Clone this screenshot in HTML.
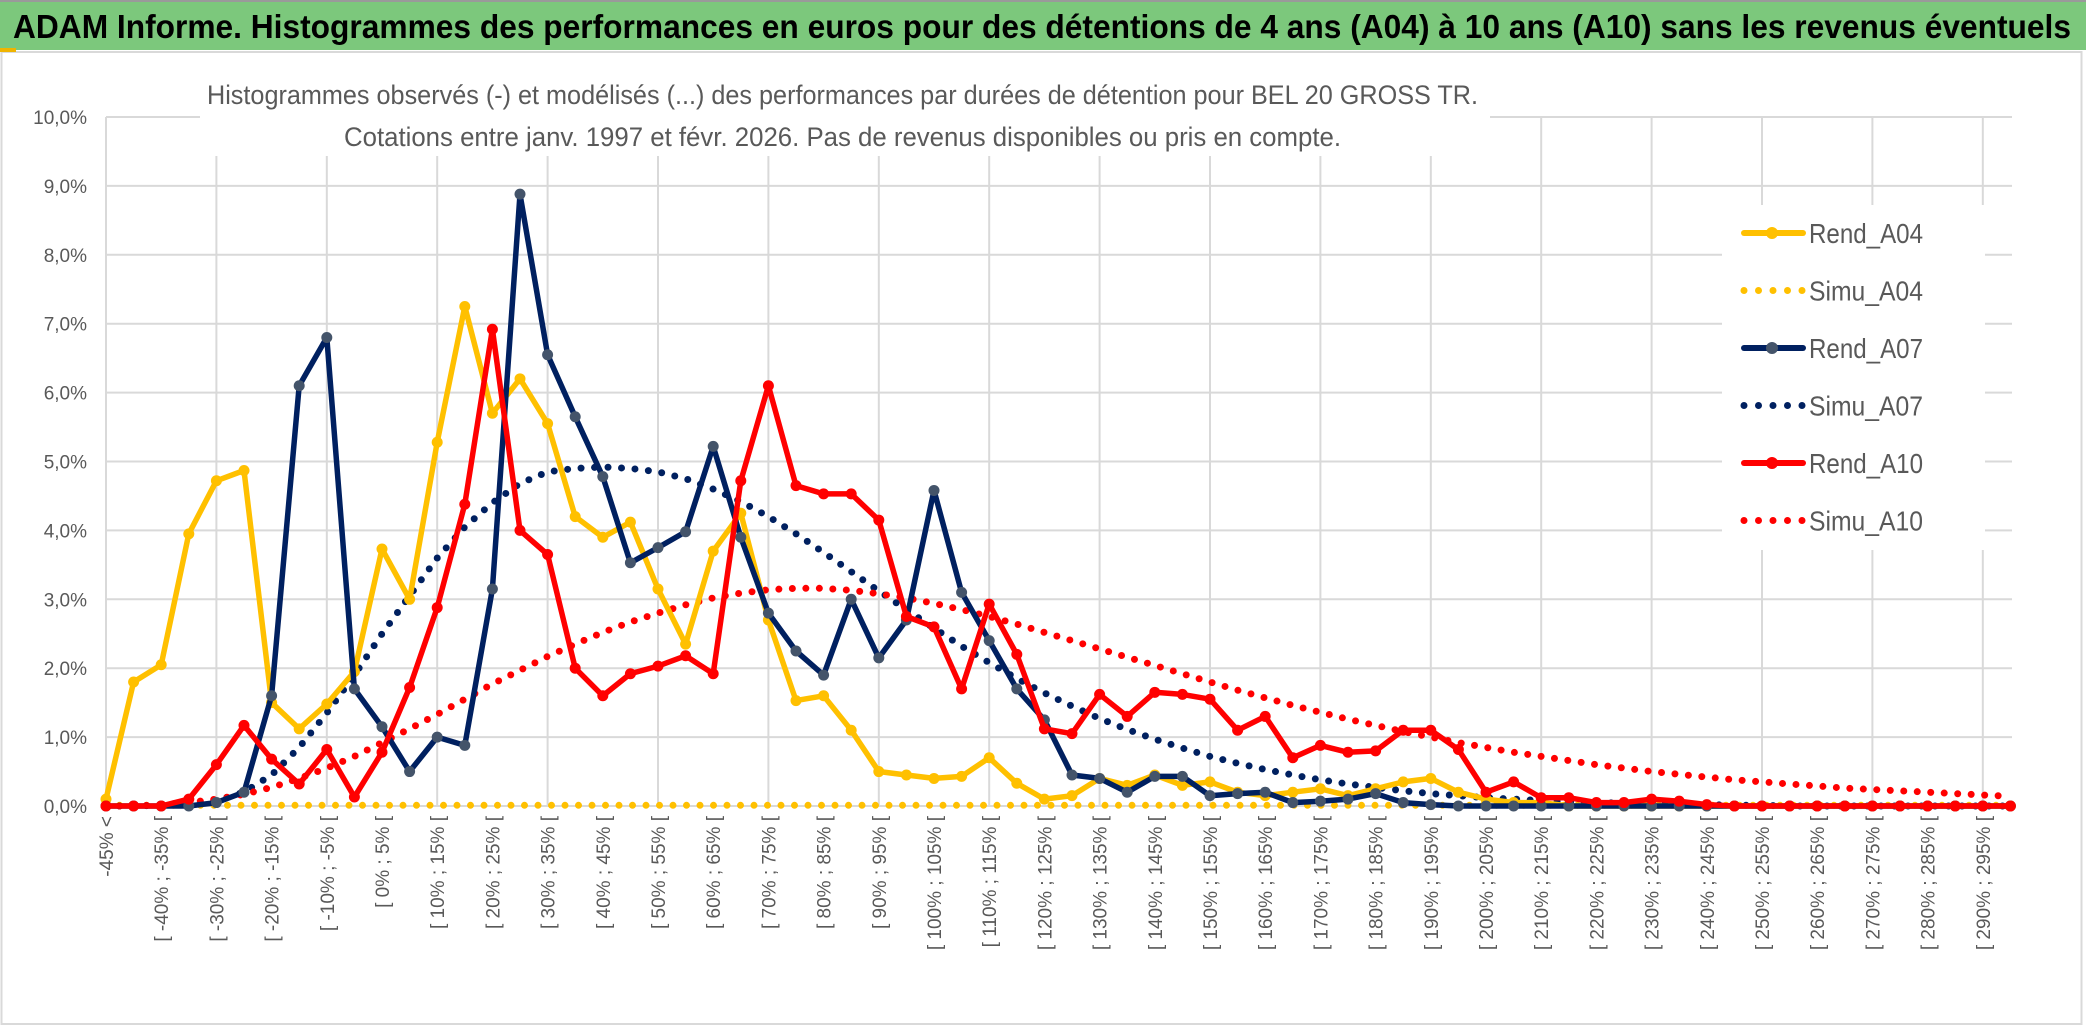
<!DOCTYPE html>
<html><head><meta charset="utf-8"><style>
html,body{margin:0;padding:0;background:#fff;}
svg{display:block;font-family:"Liberation Sans",sans-serif;}
</style></head><body>
<svg id="chart" width="2086" height="1031" viewBox="0 0 2086 1031">
<rect x="0" y="0" width="2086" height="1031" fill="#fff"/>
<rect x="1.5" y="52" width="2080" height="972" fill="none" stroke="#d9d9d9" stroke-width="2"/>
<rect x="0" y="0" width="2086" height="50" fill="#7cc87c"/>
<line x1="0" y1="1" x2="2086" y2="1" stroke="#9a9a9a" stroke-width="2"/>
<rect x="0" y="48" width="16" height="4" fill="#f0b400"/>
<text x="13" y="38" font-size="33" font-weight="bold" fill="#000" textLength="2058" lengthAdjust="spacingAndGlyphs">ADAM Informe. Histogrammes des performances en euros pour des détentions de 4 ans (A04) à 10 ans (A10) sans les revenus éventuels</text>
<g id="grid"></g>
<g id="series"></g>
<g id="ylabels"></g>
<g id="xlabels"></g>
<rect x="200" y="78" width="1290" height="78" fill="#fff"/>
<text x="207" y="104" font-size="27" fill="#595959" textLength="1271" lengthAdjust="spacingAndGlyphs">Histogrammes observés (-) et modélisés (...) des performances par durées de détention pour BEL 20 GROSS TR.</text>
<text x="344" y="146" font-size="27" fill="#595959" textLength="997" lengthAdjust="spacingAndGlyphs">Cotations entre janv. 1997 et févr. 2026. Pas de revenus disponibles ou pris en compte.</text>
<g id="legend"></g>
</svg>
<script>
const categories = ["-45% <"];
for (let a = -45; a < 300; a += 5) categories.push("[ " + a + "% ; " + (a + 5) + "% [");
const yTicks = [0,1,2,3,4,5,6,7,8,9,10];
const yTickLabels = ["0,0%","1,0%","2,0%","3,0%","4,0%","5,0%","6,0%","7,0%","8,0%","9,0%","10,0%"];
const rendA04 = [0.1,1.8,2.05,3.95,4.72,4.87,1.5,1.12,1.48,1.95,3.73,3.0,5.28,7.25,5.7,6.2,5.55,4.2,3.9,4.12,3.15,2.35,3.7,4.25,2.7,1.53,1.6,1.1,0.5,0.45,0.4,0.43,0.7,0.33,0.1,0.15,0.4,0.3,0.45,0.3,0.35,0.2,0.15,0.2,0.25,0.15,0.25,0.35,0.4,0.2,0.1,0.05,0.05,0,0,0,0,0,0,0,0,0,0,0,0,0,0,0,0,0];
const simuA04 = [0.01,0.01,0.01,0.01,0.01,0.01,0.01,0.01,0.01,0.01,0.01,0.01,0.01,0.01,0.01,0.01,0.01,0.01,0.01,0.01,0.01,0.01,0.01,0.01,0.01,0.01,0.01,0.01,0.01,0.01,0.01,0.01,0.01,0.01,0.01,0.01,0.01,0.01,0.01,0.01,0.01,0.01,0.01,0.01,0.01,0.01,0.01,0.01,0.01,0.01,0.01,0.01,0.01,0.01,0.01,0.01,0.01,0.01,0.01,0.01,0.01,0.01,0.01,0.01,0.01,0.01,0.01,0.01,0.01,0.01];
const rendA07 = [0,0,0,0,0.05,0.2,1.6,6.1,6.8,1.7,1.15,0.5,1.0,0.88,3.15,8.88,6.55,5.65,4.78,3.53,3.75,3.98,5.22,3.9,2.8,2.25,1.9,3.0,2.15,2.7,4.58,3.1,2.4,1.7,1.25,0.45,0.4,0.2,0.43,0.43,0.15,0.18,0.2,0.05,0.07,0.1,0.18,0.05,0.02,0,0,0,0,0,0,0,0,0,0,0,0,0,0,0,0,0,0,0,0,0];
const simuA07 = [0,0,0.01,0.03,0.08,0.2,0.45,0.85,1.35,1.9,2.5,3.05,3.6,4.05,4.4,4.68,4.85,4.9,4.92,4.9,4.85,4.75,4.6,4.42,4.2,3.95,3.68,3.4,3.12,2.85,2.58,2.32,2.08,1.85,1.64,1.45,1.27,1.11,0.97,0.84,0.72,0.62,0.53,0.45,0.38,0.32,0.27,0.22,0.18,0.15,0.12,0.1,0.08,0.06,0.05,0.04,0.03,0.02,0.02,0.01,0.01,0,0,0,0,0,0,0,0,0];
const rendA10 = [0,0,0,0.1,0.6,1.17,0.68,0.32,0.82,0.13,0.78,1.72,2.88,4.38,6.92,4.0,3.65,2.0,1.6,1.92,2.03,2.18,1.92,4.72,6.1,4.65,4.53,4.53,4.15,2.75,2.6,1.7,2.93,2.2,1.12,1.05,1.62,1.3,1.65,1.62,1.55,1.1,1.3,0.7,0.88,0.78,0.8,1.1,1.1,0.82,0.2,0.35,0.12,0.12,0.05,0.05,0.1,0.07,0.02,0,0,0,0,0,0,0,0,0,0,0];
const simuA10 = [0,0,0.02,0.05,0.1,0.17,0.27,0.4,0.55,0.72,0.92,1.12,1.33,1.55,1.77,1.97,2.17,2.35,2.52,2.67,2.8,2.92,3.02,3.09,3.14,3.16,3.16,3.13,3.08,3.02,2.94,2.85,2.75,2.64,2.52,2.4,2.28,2.16,2.04,1.92,1.8,1.68,1.57,1.46,1.36,1.26,1.17,1.08,1.0,0.92,0.85,0.78,0.72,0.66,0.6,0.55,0.5,0.46,0.42,0.38,0.35,0.32,0.29,0.26,0.24,0.22,0.2,0.18,0.16,0.14];

const NS = "http://www.w3.org/2000/svg";
const X0 = 106, DX = 27.6, Y0 = 806, DY = 68.9, XR = 2012;
function xPos(i){ return X0 + i * DX; }
function yPos(v){ return Y0 - v * DY; }
function mk(tag, attrs, parent){ const e = document.createElementNS(NS, tag); for (const k in attrs) e.setAttribute(k, attrs[k]); parent.appendChild(e); return e; }

const grid = document.getElementById("grid");
yTicks.forEach((t, k) => {
  const l = mk("line", {x1: X0, x2: XR, y1: yPos(t), y2: yPos(t), stroke: "#d9d9d9", "stroke-width": 2}, grid);
  
  
});
for (let i = 0; i < categories.length; i += 4) {
  const l = mk("line", {x1: xPos(i), x2: xPos(i), y1: yPos(10), y2: Y0, stroke: "#d9d9d9", "stroke-width": 2}, grid);
  
  
}
const yl = document.getElementById("ylabels");
yTicks.forEach((t, k) => {
  const tx = mk("text", {x: 87, y: yPos(t) + 7, "text-anchor": "end", "font-size": 19, fill: "#595959"}, yl);
  tx.textContent = yTickLabels[k];
  
  
});
const xl = document.getElementById("xlabels");
categories.forEach((c, i) => {
  if (i % 2 === 1) return;
  const x = xPos(i) + 7, y = 816;
  const tx = mk("text", {x: x, y: y, "text-anchor": "end", "font-size": 19, fill: "#595959", transform: "rotate(-90 " + x + " " + y + ")"}, xl);
  tx.textContent = c;
  
  
});

const sg = document.getElementById("series");
function pts(arr){ return arr.map((v, i) => xPos(i).toFixed(1) + "," + yPos(v).toFixed(1)).join(" "); }
function dotted(arr, color, name){
  const p = mk("polyline", {points: pts(arr), fill: "none", stroke: color, "stroke-width": 7, "stroke-linecap": "round", "stroke-dasharray": "0 13.5"}, sg);
  
  
}
function solid(arr, color, mcolor, name){
  const p = mk("polyline", {points: pts(arr), fill: "none", stroke: color, "stroke-width": 5.5, "stroke-linejoin": "round"}, sg);
  
  
  arr.forEach((v, i) => {
    const c = mk("circle", {cx: xPos(i), cy: yPos(v), r: 5.5, fill: mcolor}, sg);
    
    
  });
}
dotted(simuA04, "#ffc000", "simu-a04-line");
dotted(simuA07, "#002060", "simu-a07-line");
dotted(simuA10, "#ff0000", "simu-a10-line");
solid(rendA04, "#ffc000", "#ffc000", "rend-a04-line");
solid(rendA07, "#002060", "#44546a", "rend-a07-line");
solid(rendA10, "#ff0000", "#ff0000", "rend-a10-line");

const lg = document.getElementById("legend");
mk("rect", {x: 1722, y: 205, width: 263, height: 345, fill: "#fff"}, lg);
const legendItems = [["Rend_A04","#ffc000","#ffc000",false],["Simu_A04","#ffc000","",true],["Rend_A07","#002060","#44546a",false],["Simu_A07","#002060","",true],["Rend_A10","#ff0000","#ff0000",false],["Simu_A10","#ff0000","",true]];
legendItems.forEach((it, k) => {
  const y = 233 + k * 57.5;
  const g = mk("g", {}, lg);
  
  
  if (it[3]) {
    mk("line", {x1: 1744, x2: 1803, y1: y, y2: y, stroke: it[1], "stroke-width": 7, "stroke-linecap": "round", "stroke-dasharray": "0 14.5"}, g);
  } else {
    mk("line", {x1: 1744, x2: 1803, y1: y, y2: y, stroke: it[1], "stroke-width": 6, "stroke-linecap": "round"}, g);
    mk("circle", {cx: 1772, cy: y, r: 6, fill: it[2]}, g);
  }
  const t = mk("text", {x: 1809, y: y + 10, "font-size": 28, fill: "#595959", textLength: 114, lengthAdjust: "spacingAndGlyphs"}, g);
  t.textContent = it[0];
});
</script>
</body></html>
